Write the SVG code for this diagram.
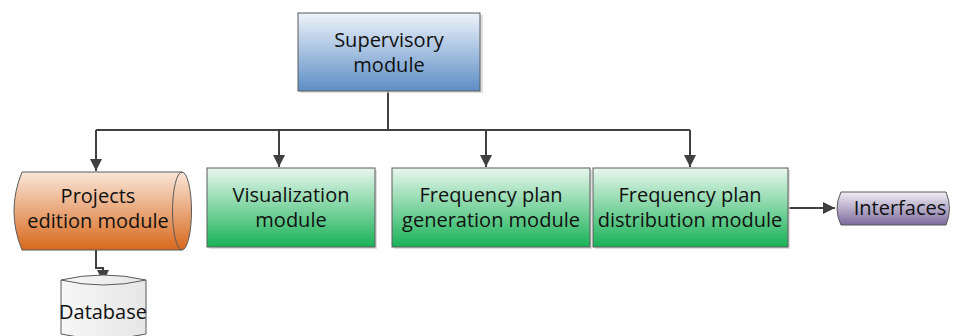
<svg xmlns="http://www.w3.org/2000/svg" width="956" height="336" viewBox="0 0 956 336">
<defs>
<linearGradient id="gBlue" x1="0" y1="0" x2="0" y2="1"><stop offset="0" stop-color="#eef3fa"/><stop offset="1" stop-color="#5d8ec6"/></linearGradient>
<linearGradient id="gGreen" x1="0" y1="0" x2="0" y2="1"><stop offset="0" stop-color="#e8f7ee"/><stop offset="1" stop-color="#19b257"/></linearGradient>
<linearGradient id="gOrange" x1="0" y1="0" x2="0" y2="1"><stop offset="0" stop-color="#fae6d8"/><stop offset="1" stop-color="#d8681c"/></linearGradient>
<linearGradient id="gPurple" x1="0" y1="0" x2="0" y2="1"><stop offset="0" stop-color="#f0edf5"/><stop offset="1" stop-color="#7c6a9c"/></linearGradient>
<linearGradient id="gGray" x1="0" y1="0" x2="1" y2="0"><stop offset="0" stop-color="#f7f7f7"/><stop offset="1" stop-color="#e6e6e6"/></linearGradient>
<marker id="arr" viewBox="0 0 10 10" refX="10" refY="5" markerWidth="6" markerHeight="6" orient="auto" markerUnits="strokeWidth">
<path d="M0,0 L10,5 L0,10 z" fill="#404040"/>
</marker>
</defs>
<style>
.box{stroke:#5a5a5a;stroke-width:1}
.sh{fill:#d0d0d0;opacity:0.7}
.t{font-family:"Open Sans","Noto Sans","Liberation Sans",sans-serif;font-size:20px;fill:#111;text-anchor:middle}
.c{fill:none;stroke:#404040;stroke-width:2}
</style>
<g id="connectors">
<path class="c" d="M388,91 V130"/>
<path class="c" d="M96,130 H690"/>
<path class="c" d="M96,130 V171" marker-end="url(#arr)"/>
<path class="c" d="M279,130 V167" marker-end="url(#arr)"/>
<path class="c" d="M486,130 V167" marker-end="url(#arr)"/>
<path class="c" d="M690,130 V167" marker-end="url(#arr)"/>
<path class="c" d="M788,208 H835" marker-end="url(#arr)"/>
<path class="c" d="M96,250 V268 H103 V282" marker-end="url(#arr)"/>
</g>
<g id="supervisory">
<rect class="sh" x="300" y="15" width="183" height="78"/>
<rect class="box" x="298" y="13" width="182" height="78" fill="url(#gBlue)"/>
<text class="t" x="389" y="47">Supervisory</text>
<text class="t" x="389" y="72">module</text>
</g>
<g id="projects">
<path class="box" d="M22,172 H182 A9.5,39 0 0 1 182,250 H22 Q6,211 22,172 Z" fill="url(#gOrange)"/>
<path class="box" d="M182,172 A9.5,39 0 0 0 182,250" fill="none"/>
<text class="t" x="98" y="203">Projects</text>
<text class="t" x="98" y="228">edition module</text>
</g>
<g id="visualization">
<rect class="sh" x="209" y="170" width="168" height="79"/>
<rect class="box" x="207" y="168" width="168" height="79" fill="url(#gGreen)"/>
<text class="t" x="291" y="202">Visualization</text>
<text class="t" x="291" y="227">module</text>
</g>
<g id="generation">
<rect class="sh" x="394" y="170" width="198" height="79"/>
<rect class="box" x="392" y="168" width="198" height="79" fill="url(#gGreen)"/>
<text class="t" x="491" y="202">Frequency plan</text>
<text class="t" x="491" y="227">generation module</text>
</g>
<g id="distribution">
<rect class="sh" x="595" y="170" width="195" height="79"/>
<rect class="box" x="593" y="168" width="195" height="79" fill="url(#gGreen)"/>
<text class="t" x="690" y="202">Frequency plan</text>
<text class="t" x="690" y="227">distribution module</text>
</g>
<g id="interfaces">
<path class="box" d="M841,192 H946 Q953,208.5 946,225 H841 Q833,208.5 841,192 Z" fill="url(#gPurple)"/>
<text class="t" x="900" y="215">Interfaces</text>
</g>
<g id="database">
<path class="box" d="M61,280 Q103,270 146,280 V334 Q103,344 61,334 Z" fill="url(#gGray)"/>
<path class="box" d="M61,280 Q103,290 146,280" fill="none"/>
<text class="t" x="103" y="319">Database</text>
</g>
</svg>
